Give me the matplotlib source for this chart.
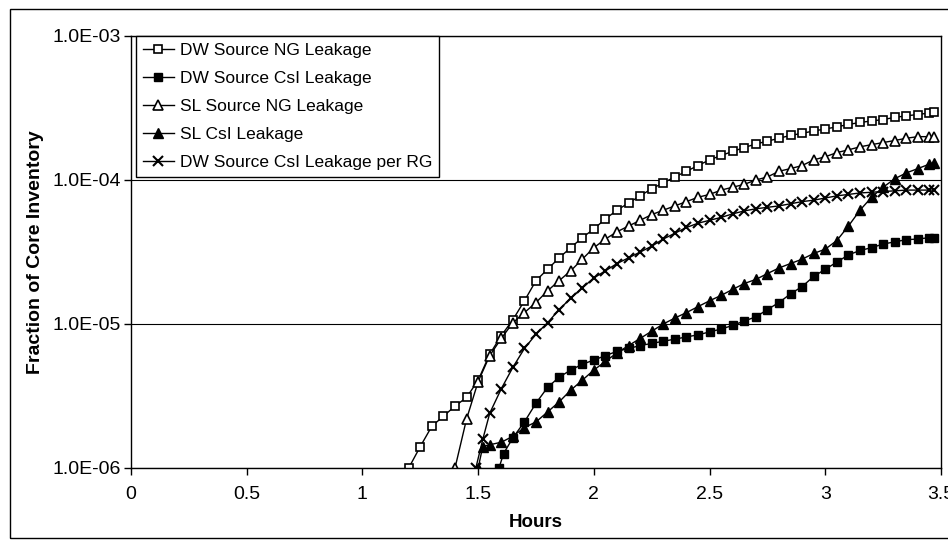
import matplotlib
matplotlib.use("Agg")
from matplotlib import pyplot as plt
from matplotlib.patches import Rectangle

plt.rcParams['font.family'] = ['Liberation Sans', 'DejaVu Sans']

# hours for each series
dw_ng_t = [1.20, 1.25, 1.30, 1.35, 1.40, 1.45, 1.50, 1.55, 1.60, 1.65, 1.70, 1.75, 1.80, 1.85,
           1.90, 1.95, 2.00, 2.05, 2.10, 2.15, 2.20, 2.25, 2.30, 2.35, 2.40, 2.45, 2.50, 2.55,
           2.60, 2.65, 2.70, 2.75, 2.80, 2.85, 2.90, 2.95, 3.00, 3.05, 3.10, 3.15, 3.20, 3.25,
           3.30, 3.35, 3.40, 3.45, 3.47]
dw_ng = [1.0e-6, 1.41e-6, 1.95e-6, 2.29e-6, 2.69e-6, 3.09e-6, 4.07e-6, 6.17e-6, 8.3e-6, 1.07e-5,
         1.45e-5, 2.0e-5, 2.4e-5, 2.88e-5, 3.39e-5, 3.98e-5, 4.57e-5, 5.37e-5, 6.17e-5, 6.92e-5,
         7.76e-5, 8.7e-5, 9.55e-5, 1.05e-4, 1.15e-4, 1.26e-4, 1.38e-4, 1.48e-4, 1.58e-4, 1.68e-4,
         1.78e-4, 1.86e-4, 1.95e-4, 2.04e-4, 2.11e-4, 2.19e-4, 2.26e-4, 2.34e-4, 2.43e-4, 2.51e-4,
         2.57e-4, 2.63e-4, 2.72e-4, 2.79e-4, 2.85e-4, 2.92e-4, 2.95e-4]

dw_csi_t = [1.59, 1.61, 1.65, 1.70, 1.75, 1.80, 1.85, 1.90, 1.95, 2.00, 2.05, 2.10, 2.15, 2.20,
            2.25, 2.30, 2.35, 2.40, 2.45, 2.50, 2.55, 2.60, 2.65, 2.70, 2.75, 2.80, 2.85, 2.90,
            2.95, 3.00, 3.05, 3.10, 3.15, 3.20, 3.25, 3.30, 3.35, 3.40, 3.45, 3.47]
dw_csi = [1.0e-6, 1.26e-6, 1.62e-6, 2.09e-6, 2.82e-6, 3.63e-6, 4.27e-6, 4.79e-6, 5.25e-6, 5.62e-6,
          6.03e-6, 6.46e-6, 6.76e-6, 7.08e-6, 7.33e-6, 7.59e-6, 7.85e-6, 8.13e-6, 8.41e-6, 8.81e-6,
          9.23e-6, 9.77e-6, 1.05e-5, 1.12e-5, 1.26e-5, 1.41e-5, 1.62e-5, 1.82e-5, 2.14e-5, 2.40e-5,
          2.69e-5, 3.02e-5, 3.24e-5, 3.39e-5, 3.59e-5, 3.72e-5, 3.85e-5, 3.89e-5, 3.98e-5, 3.98e-5]

sl_ng_t = [1.40, 1.45, 1.50, 1.55, 1.60, 1.65, 1.70, 1.75, 1.80, 1.85, 1.90, 1.95, 2.00, 2.05,
           2.10, 2.15, 2.20, 2.25, 2.30, 2.35, 2.40, 2.45, 2.50, 2.55, 2.60, 2.65, 2.70, 2.75,
           2.80, 2.85, 2.90, 2.95, 3.00, 3.05, 3.10, 3.15, 3.20, 3.25, 3.30, 3.35, 3.40, 3.45, 3.47]
sl_ng = [1.0e-6, 2.19e-6, 3.98e-6, 6.03e-6, 7.94e-6, 1.02e-5, 1.2e-5, 1.41e-5, 1.70e-5, 2.0e-5,
         2.34e-5, 2.82e-5, 3.39e-5, 3.89e-5, 4.37e-5, 4.79e-5, 5.25e-5, 5.75e-5, 6.17e-5, 6.61e-5,
         7.08e-5, 7.59e-5, 7.94e-5, 8.51e-5, 8.91e-5, 9.33e-5, 1.0e-4, 1.05e-4, 1.15e-4, 1.20e-4,
         1.26e-4, 1.38e-4, 1.45e-4, 1.55e-4, 1.62e-4, 1.70e-4, 1.76e-4, 1.82e-4, 1.88e-4, 1.95e-4,
         2.0e-4, 2.0e-4, 2.0e-4]

sl_csi_t = [1.50, 1.52, 1.55, 1.60, 1.65, 1.70, 1.75, 1.80, 1.85, 1.90, 1.95, 2.00, 2.05, 2.10,
            2.15, 2.20, 2.25, 2.30, 2.35, 2.40, 2.45, 2.50, 2.55, 2.60, 2.65, 2.70, 2.75, 2.80,
            2.85, 2.90, 2.95, 3.00, 3.05, 3.10, 3.15, 3.20, 3.25, 3.30, 3.35, 3.40, 3.45, 3.47]
sl_csi = [1.0e-6, 1.41e-6, 1.45e-6, 1.51e-6, 1.66e-6, 1.91e-6, 2.09e-6, 2.45e-6, 2.88e-6, 3.47e-6,
          4.07e-6, 4.79e-6, 5.5e-6, 6.31e-6, 7.08e-6, 7.94e-6, 8.91e-6, 1.0e-5, 1.10e-5, 1.20e-5,
          1.32e-5, 1.45e-5, 1.58e-5, 1.74e-5, 1.91e-5, 2.04e-5, 2.24e-5, 2.45e-5, 2.63e-5, 2.82e-5,
          3.09e-5, 3.31e-5, 3.80e-5, 4.79e-5, 6.17e-5, 7.59e-5, 8.91e-5, 1.02e-4, 1.12e-4, 1.20e-4,
          1.29e-4, 1.32e-4]

rg_t = [1.49, 1.52, 1.55, 1.60, 1.65, 1.70, 1.75, 1.80, 1.85, 1.90, 1.95, 2.00, 2.05, 2.10,
        2.15, 2.20, 2.25, 2.30, 2.35, 2.40, 2.45, 2.50, 2.55, 2.60, 2.65, 2.70, 2.75, 2.80,
        2.85, 2.90, 2.95, 3.00, 3.05, 3.10, 3.15, 3.20, 3.25, 3.30, 3.35, 3.40, 3.45, 3.47]
rg_csi = [1.0e-6, 1.58e-6, 2.4e-6, 3.55e-6, 5.0e-6, 6.76e-6, 8.5e-6, 1.02e-5, 1.26e-5, 1.51e-5,
          1.78e-5, 2.09e-5, 2.34e-5, 2.63e-5, 2.88e-5, 3.16e-5, 3.47e-5, 3.89e-5, 4.27e-5, 4.68e-5,
          5.01e-5, 5.25e-5, 5.5e-5, 5.82e-5, 6.1e-5, 6.31e-5, 6.46e-5, 6.61e-5, 6.84e-5, 7.08e-5,
          7.24e-5, 7.5e-5, 7.76e-5, 7.94e-5, 8.13e-5, 8.22e-5, 8.32e-5, 8.41e-5, 8.51e-5, 8.51e-5,
          8.51e-5, 8.51e-5]

x_ticks = [0, 0.5, 1, 1.5, 2, 2.5, 3, 3.5]
x_labels = ["0", "0.5", "1", "1.5", "2", "2.5", "3", "3.5"]
y_ticks = [1e-6, 1e-5, 1e-4, 1e-3]
y_labels = ["1.0E-06", "1.0E-05", "1.0E-04", "1.0E-03"]

fig = plt.figure(figsize=(9.48, 5.44), dpi=100)
# outer chart border (right side runs off the page)
fig.patches.append(Rectangle((10 / 948, 6 / 544), 1.0, 529 / 544, transform=fig.transFigure,
                             fill=False, edgecolor="black", linewidth=1.0, clip_on=False))
ax = fig.add_axes([131 / 948, 76 / 544, 810 / 948, 432 / 544])

ms = 5.5
ax.plot(dw_ng_t, dw_ng, '-', color='black', lw=1, marker='s', ms=ms, mfc='white', mec='black',
        mew=1.2, label="DW Source NG Leakage")
ax.plot(dw_csi_t, dw_csi, '-', color='black', lw=1, marker='s', ms=ms, mfc='black', mec='black',
        label="DW Source CsI Leakage")
ax.plot(sl_ng_t, sl_ng, '-', color='black', lw=1, marker='^', ms=ms + 1, mfc='white', mec='black',
        mew=1.2, label="SL Source NG Leakage")
ax.plot(sl_csi_t, sl_csi, '-', color='black', lw=1, marker='^', ms=ms + 1, mfc='black', mec='black',
        label="SL CsI Leakage")
ax.plot(rg_t, rg_csi, '-', color='black', lw=1, marker='x', ms=ms + 1, mew=1.5,
        label="DW Source CsI Leakage per RG")

ax.set_yscale('log')
ax.set_xlim(0, 3.5)
ax.set_ylim(1e-6, 1e-3)
ax.set_xticks(x_ticks)
ax.set_xticklabels(x_labels)
ax.set_yticks(y_ticks)
ax.set_yticklabels(y_labels)
ax.minorticks_off()
ax.tick_params(axis='both', direction='out', length=5, width=1, labelsize=14, color='black')
ax.tick_params(axis='x', pad=8)
ax.tick_params(axis='y', pad=2)
ax.yaxis.grid(True, color='black', linewidth=0.8)
ax.set_axisbelow(True)
for s in ax.spines.values():
    s.set_linewidth(1.0)

ax.set_xlabel("Hours", fontsize=13.5, fontweight='bold', labelpad=8)
ax.set_ylabel("Fraction of Core Inventory", fontsize=14, fontweight='bold', labelpad=6)

leg = ax.legend(loc='upper left', bbox_to_anchor=(0.006, 1.0), borderaxespad=0, fontsize=12.5,
                frameon=True, fancybox=False, edgecolor='black', framealpha=1,
                handlelength=1.8, handletextpad=0.35, labelspacing=0.74, borderpad=0.4)
leg.get_frame().set_linewidth(1.0)

fig.savefig("out.png", dpi=100)
